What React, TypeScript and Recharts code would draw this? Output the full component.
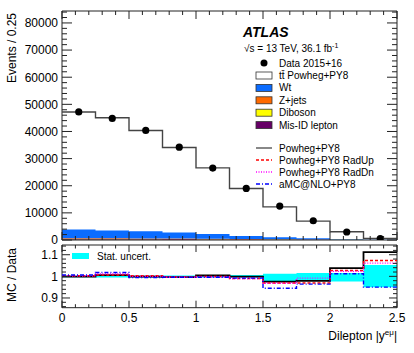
import React from 'react';
import { ComposedChart, Line, Area, Scatter, XAxis, YAxis, ReferenceArea } from 'recharts';

// bins of |y(e mu)|, width 0.25
const binEdges = [0, 0.25, 0.5, 0.75, 1, 1.25, 1.5, 1.75, 2, 2.25, 2.5];
const binCentres = [0.125, 0.375, 0.625, 0.875, 1.125, 1.375, 1.625, 1.875, 2.125, 2.375];

// upper pane (events / 0.25)
const dataEvents = [47200, 44800, 40400, 34200, 26500, 19000, 12500, 7100, 2950, 550];
const mcPowheg = [47150, 45050, 40350, 34100, 26600, 19000, 12200, 6950, 3050, 610];
const misId = [320, 300, 280, 250, 210, 160, 120, 80, 40, 15];
const diboson = [90, 85, 80, 70, 60, 50, 35, 25, 12, 5];
const zjets = [260, 250, 230, 200, 170, 130, 95, 60, 30, 10];
const wt = [3200, 2900, 2650, 2250, 1800, 1150, 800, 450, 200, 60];

// lower pane (MC / Data)
const ratioNominal = [0.999, 1.006, 0.999, 0.996, 1.004, 0.999, 0.976, 0.979, 1.038, 1.112];
const ratioRadUp = [1.003, 1.006, 1.003, 0.997, 0.999, 0.99, 0.969, 0.969, 1.027, 1.073];
const ratioRadDn = [1.002, 1.012, 1.0, 0.996, 0.997, 0.99, 0.968, 0.992, 1.023, 1.061];
const ratioAmc = [1.006, 1.018, 0.994, 0.996, 0.996, 0.992, 0.945, 0.964, 1.012, 0.95];
const statLo = [0.996, 0.995, 0.995, 0.996, 0.995, 0.995, 0.979, 0.981, 0.976, 0.95];
const statHi = [1.003, 1.003, 1.004, 1.004, 1.004, 1.006, 1.012, 1.015, 1.015, 1.053];

// axis ticks
const yUpperMajor = [0, 10000, 20000, 30000, 40000, 50000, 60000, 70000, 80000];
const yUpperTicks = Array.from({ length: 43 }, (_, i) => i * 2000);
const xMajor = [0, 0.5, 1, 1.5, 2, 2.5];
const xTicks = Array.from({ length: 26 }, (_, i) => i / 10);
const yRatioMajor = [0.9, 1, 1.1];
const yRatioTicks = Array.from({ length: 15 }, (_, i) => Math.round((0.86 + i * 0.02) * 100) / 100);

const FONT = '"Liberation Sans", Arial, Helvetica, sans-serif';
const PLOT_W = 335;
const UP_H = 229;
const LOW_H = 62.7;
const INK = '#222';

const last = (arr: number[], i: number) => arr[Math.min(i, arr.length - 1)];

const upperTable = binEdges.map((x, i) => ({
  x,
  misId: last(misId, i),
  diboson: last(diboson, i),
  zjets: last(zjets, i),
  wt: last(wt, i),
  mc: last(mcPowheg, i),
}));

const dataPoints = binCentres.map((x, i) => ({ x, y: dataEvents[i] }));

const ratioTable = binEdges.map((x, i) => ({
  x,
  nominal: last(ratioNominal, i),
  radUp: last(ratioRadUp, i),
  radDn: last(ratioRadDn, i),
  amc: last(ratioAmc, i),
  stat: [last(statLo, i), last(statHi, i)],
}));

const isIn = (list: number[], v: number) => list.some((m) => Math.abs(m - v) < 1e-6);

function makeYTick(major: number[], plotW: number, majorLen: number, minorLen: number) {
  return (props: any) => {
    const { x, y, payload } = props;
    const v = payload.value;
    const isMajor = isIn(major, v);
    const len = isMajor ? majorLen : minorLen;
    return (
      <g>
        <line x1={x} y1={y} x2={x + len} y2={y} stroke={INK} />
        <line x1={x + plotW} y1={y} x2={x + plotW - len} y2={y} stroke={INK} />
        {isMajor && (
          <text x={x - 4} y={y + 4.3} textAnchor="end" fontSize={12} fontFamily={FONT} fill="#000">
            {String(v)}
          </text>
        )}
      </g>
    );
  };
}

function makeXTick(plotH: number, majorLen: number, minorLen: number, labels: boolean) {
  return (props: any) => {
    const { x, y, payload } = props;
    const v = payload.value;
    const isMajor = isIn(xMajor, v);
    const len = isMajor ? majorLen : minorLen;
    return (
      <g>
        <line x1={x} y1={y} x2={x} y2={y - len} stroke={INK} />
        <line x1={x} y1={y - plotH} x2={x} y2={y - plotH + len} stroke={INK} />
        {labels && isMajor && (
          <text x={x} y={y + 14} textAnchor="middle" fontSize={12} fontFamily={FONT} fill="#000">
            {String(v)}
          </text>
        )}
      </g>
    );
  };
}

const dot = (props: any) => <circle cx={props.cx} cy={props.cy} r={3.6} fill="#000" />;

const legendBoxes = [
  { label: 'tt\u0304 Powheg+PY8', fill: '#ffffff' },
  { label: 'Wt', fill: '#0b6cff' },
  { label: 'Z+jets', fill: '#ff6a00' },
  { label: 'Diboson', fill: '#ffff00' },
  { label: 'Mis-ID lepton', fill: '#660066' },
];

const legendLines = [
  { label: 'Powheg+PY8', stroke: '#555', dash: undefined },
  { label: 'Powheg+PY8 RadUp', stroke: '#ff0000', dash: '3 2' },
  { label: 'Powheg+PY8 RadDn', stroke: '#ff00ff', dash: '1 1.5' },
  { label: 'aMC@NLO+PY8', stroke: '#0000ff', dash: '4 2 1 2' },
];

function Overlay() {
  const lx = 256;
  const tx = 279;
  return (
    <svg width={414} height={353} style={{ position: 'absolute', left: 0, top: 0, pointerEvents: 'none' }}>
      <g fontFamily={FONT} fill="#000">
        <text x={243} y={37} fontSize={14} fontWeight="bold" fontStyle="italic">ATLAS</text>
        <text x={244} y={52} fontSize={10}>
          {'\u221As = 13 TeV, 36.1 fb'}
          <tspan dy={-4} fontSize={7}>-1</tspan>
        </text>
        <circle cx={264} cy={63} r={3.5} fill="#000" />
        <text x={tx} y={66.5} fontSize={10}>Data 2015+16</text>
        {legendBoxes.map((b, i) => (
          <g key={b.label}>
            <rect x={lx} y={72 + i * 12.4} width={16} height={7} fill={b.fill} stroke="#333" strokeWidth={0.8} />
            <text x={tx} y={79 + i * 12.4} fontSize={10}>{b.label}</text>
          </g>
        ))}
        {legendLines.map((l, i) => (
          <g key={l.label}>
            <line x1={lx} x2={lx + 16} y1={148 + i * 12} y2={148 + i * 12} stroke={l.stroke} strokeWidth={1.4} strokeDasharray={l.dash} />
            <text x={tx} y={151.5 + i * 12} fontSize={10}>{l.label}</text>
          </g>
        ))}
        <text transform="translate(16,83) rotate(-90)" fontSize={12}>Events / 0.25</text>
        <text transform="translate(16,302) rotate(-90)" fontSize={12}>MC / Data</text>
        <rect x={72} y={253} width={17} height={6} fill="#00ffff" />
        <text x={97} y={260} fontSize={10}>Stat. uncert.</text>
        <text x={397} y={340} fontSize={12} textAnchor="end">
          Dilepton |y
          <tspan dy={-5} fontSize={8}>e{'\u03BC'}</tspan>
          <tspan dy={5}>|</tspan>
        </text>
      </g>
    </svg>
  );
}

export default function App() {
  return (
    <div style={{ position: 'absolute', left: 0, top: 0, width: 414, height: 353, background: '#fff', fontFamily: FONT }}>
      <div style={{ position: 'absolute', left: 0, top: 0 }}>
        <ComposedChart width={414} height={250} data={upperTable} margin={{ top: 11, right: 17, bottom: 9, left: 0 }} style={{ overflow: 'visible' }}>
          <XAxis
            dataKey="x"
            type="number"
            domain={[0, 2.5]}
            ticks={xTicks}
            interval={0}
            height={1}
            axisLine={false}
            tickLine={false}
            tickSize={0}
            tickMargin={0}
            tick={makeXTick(UP_H, 8, 4, false)}
            allowDataOverflow
          />
          <YAxis
            type="number"
            domain={[0, 84400]}
            ticks={yUpperTicks}
            interval={0}
            width={62}
            axisLine={false}
            tickLine={false}
            tickSize={0}
            tickMargin={0}
            tick={makeYTick(yUpperMajor, PLOT_W, 10, 5)}
            allowDataOverflow
          />
          <Area dataKey="misId" stackId="bkg" type="stepAfter" fill="#660066" fillOpacity={1} stroke="none" isAnimationActive={false} />
          <Area dataKey="diboson" stackId="bkg" type="stepAfter" fill="#ffff00" fillOpacity={1} stroke="none" isAnimationActive={false} />
          <Area dataKey="zjets" stackId="bkg" type="stepAfter" fill="#ff6a00" fillOpacity={1} stroke="none" isAnimationActive={false} />
          <Area dataKey="wt" stackId="bkg" type="stepAfter" fill="#0b6cff" fillOpacity={1} stroke="none" isAnimationActive={false} />
          <Line dataKey="mc" type="stepAfter" stroke="#444" strokeWidth={1.4} dot={false} isAnimationActive={false} />
          <Scatter data={dataPoints} dataKey="y" shape={dot} isAnimationActive={false} />
          <ReferenceArea x1={0} x2={2.5} y1={0} y2={84400} fill="none" stroke={INK} strokeWidth={1} ifOverflow="visible" />
        </ComposedChart>
      </div>
      <div style={{ position: 'absolute', left: 0, top: 240 }}>
        <ComposedChart width={414} height={113} data={ratioTable} margin={{ top: 5, right: 17, bottom: 0, left: 0 }}>
          <XAxis
            dataKey="x"
            type="number"
            domain={[0, 2.5]}
            ticks={xTicks}
            interval={0}
            height={45.3}
            axisLine={false}
            tickLine={false}
            tickSize={0}
            tickMargin={0}
            tick={makeXTick(LOW_H, 7, 3.5, true)}
            allowDataOverflow
          />
          <YAxis
            type="number"
            domain={[0.855, 1.145]}
            ticks={yRatioTicks}
            interval={0}
            width={62}
            axisLine={false}
            tickLine={false}
            tickSize={0}
            tickMargin={0}
            tick={makeYTick(yRatioMajor, PLOT_W, 8, 4)}
            allowDataOverflow
          />
          <Area dataKey="stat" type="stepAfter" fill="#00ffff" fillOpacity={1} stroke="none" isAnimationActive={false} />
          <Line dataKey="nominal" type="stepAfter" stroke="#000" strokeWidth={1.8} dot={false} isAnimationActive={false} />
          <Line dataKey="radUp" type="stepAfter" stroke="#ff0000" strokeWidth={1.4} strokeDasharray="3 2" dot={false} isAnimationActive={false} />
          <Line dataKey="radDn" type="stepAfter" stroke="#ff00ff" strokeWidth={1.4} strokeDasharray="1 1.5" dot={false} isAnimationActive={false} />
          <Line dataKey="amc" type="stepAfter" stroke="#0000ff" strokeWidth={1.4} strokeDasharray="4 2 1 2" dot={false} isAnimationActive={false} />
          <ReferenceArea x1={0} x2={2.5} y1={0.855} y2={1.145} fill="none" stroke={INK} strokeWidth={1} ifOverflow="visible" />
        </ComposedChart>
      </div>
      <Overlay />
    </div>
  );
}
